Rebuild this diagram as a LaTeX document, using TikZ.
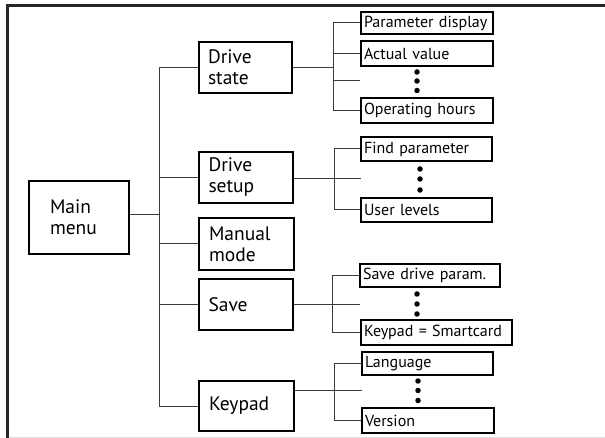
\documentclass[tikz,border=0pt]{standalone}
\usepackage{fontspec}
\setmainfont{PT Sans}
\definecolor{conncol}{HTML}{3A3A3A}
\definecolor{framecol}{HTML}{262626}
\newcommand{\bx}[7]{% style, name, x1, y1, x2, y2, text
  \node[#1, minimum width={(#5-#3)*1pt}, minimum height={(#6-#4)*1pt}] (#2) at ({(#3+#5)/2},{(#4+#6)/2}) {#7};}
\newcommand{\sbx}[6]{% name, x1, y1, x2, y2, text
  \bx{subbox={#4-#2-6}}{#1}{#2}{#3}{#4}{#5}{\mbox{#6}}}
\tikzset{
  mainbox/.style={draw=black, line width=1.5pt, inner ysep=0pt, inner xsep=0pt, align=left,
    font=\fontsize{19.5}{21}\selectfont, text width={(#1)*1pt}},
  subbox/.style={draw=black, line width=1.5pt, inner ysep=0pt, inner xsep=3pt, align=left,
    font=\fontsize{16}{17}\selectfont, text width={(#1)*1pt}},
  conn/.style={draw=conncol, line width=1pt},
  vdot/.style={circle, fill=black, inner sep=0pt, minimum size=5.5pt},
}
\begin{document}
\begin{tikzpicture}[x=1pt,y=-1pt]
\useasboundingbox (0,0) rectangle (605,438);
% frame
\draw[framecol, line width=3pt] (7,438) -- (7,5.5) -- (605,5.5);
\draw[black!12, line width=1pt] (8.5,437.5) -- (605,437.5);
% main level
\bx{mainbox=58}{main}{29}{181}{129}{254}{Main\\menu}
\bx{mainbox=75}{ds}{199}{42}{292}{93}{Drive\\state}
\bx{mainbox=75}{su}{199}{152}{293}{203}{Drive\\setup}
\bx{mainbox=75}{mm}{199}{218}{294}{270}{Manual\\mode}
\bx{mainbox=75}{sv}{199}{279}{293}{330}{Save}
\bx{mainbox=75}{kp}{199}{381}{294}{431}{Keypad}
% sub level
\sbx{pd}{361}{12}{493}{34}{Parameter display}
\sbx{av}{361}{41}{493}{66}{Actual value}
\sbx{oh}{361}{98}{493}{123}{Operating hours}
\sbx{fp}{361}{137}{492}{161}{Find parameter}
\sbx{ul}{361}{198}{492}{222}{User levels}
\sbx{sp}{360}{264}{500}{287}{Save drive param.}
\sbx{ks}{361}{320}{512}{345}{Keypad = Smartcard}
\sbx{lg}{362}{352}{493}{375}{Language}
\sbx{vs}{362}{408}{494}{433}{Version}
% trunk coordinates and free ends
\coordinate (t0) at (159,215);
\coordinate (t1) at (333,68);
\coordinate (t2) at (334,179);
\coordinate (t3) at (332,305);
\coordinate (t4) at (334,390);
\coordinate (e1) at (360,81);
\coordinate (e2) at (361,179);
\coordinate (e3) at (360,305);
\coordinate (e4) at (362,390);
% main connectors
\draw[conn] (main.east |- t0) -- (t0);
\draw[conn] (ds.west) -| (t0 |- kp.west) -- (kp.west);
\draw[conn] (t0 |- su.west) -- (su.west);
\draw[conn] (t0 |- mm.west) -- (mm.west);
\draw[conn] (t0 |- sv.west) -- (sv.west);
% drive state
\draw[conn] (ds.east |- t1) -- (t1);
\draw[conn] (pd.west) -| (t1 |- oh.west) -- (oh.west);
\draw[conn] (t1 |- av.west) -- (av.west);
\draw[conn] (t1 |- e1) -- (e1);
% drive setup
\draw[conn] (su.east |- e2) -- (e2);
\draw[conn] (fp.west) -| (t2 |- ul.west) -- (ul.west);
% save
\draw[conn] (sv.east |- e3) -- (e3);
\draw[conn] (sp.west) -| (t3 |- ks.west) -- (ks.west);
% keypad
\draw[conn] (kp.east |- e4) -- (e4);
\draw[conn] (lg.west) -| (t4 |- vs.west) -- (vs.west);
% dots
\node[vdot] (d11) at (417,72) {};
\node[vdot] (d12) at (417,81) {};
\node[vdot] (d13) at (417,90.5) {};
\node[vdot] (d21) at (420,169) {};
\node[vdot] (d22) at (420,179) {};
\node[vdot] (d23) at (420,190) {};
\node[vdot] (d31) at (417,294) {};
\node[vdot] (d32) at (417,304) {};
\node[vdot] (d33) at (417,314) {};
\node[vdot] (d41) at (418,381) {};
\node[vdot] (d42) at (418,390.5) {};
\node[vdot] (d43) at (418,400.5) {};
\end{tikzpicture}
\end{document}
